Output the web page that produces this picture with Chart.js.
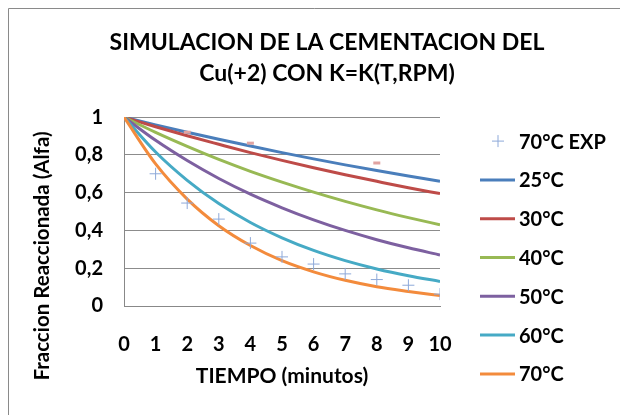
<!DOCTYPE html>
<html>
<head>
<meta charset="utf-8">
<script src="https://cdn.jsdelivr.net/npm/chart.js@4.4.1/dist/chart.umd.min.js"></script>
<style>
    html, body { margin: 0; padding: 0; background: #fff; }
    canvas { display: block; }
</style>
</head>
<body>
<canvas id="cementChart" width="620" height="415"></canvas>
<script>
// tiempo (minutos) for the simulated curves
const tiempo = [0, 1, 2, 3, 4, 5, 6, 7, 8, 9, 10];

// simulated fraction reacted per temperature
const alfa25 = [1, 0.959, 0.920, 0.883, 0.847, 0.812, 0.779, 0.747, 0.717, 0.688, 0.66];
const alfa30 = [1, 0.949, 0.901, 0.856, 0.812, 0.771, 0.732, 0.695, 0.660, 0.626, 0.595];
const alfa40 = [1, 0.919, 0.845, 0.776, 0.713, 0.656, 0.603, 0.554, 0.509, 0.468, 0.43];
const alfa50 = [1, 0.877, 0.770, 0.675, 0.592, 0.520, 0.456, 0.400, 0.351, 0.308, 0.27];
const alfa60 = [1, 0.815, 0.665, 0.542, 0.442, 0.361, 0.294, 0.240, 0.196, 0.160, 0.13];
const alfa70 = [1, 0.752, 0.566, 0.425, 0.320, 0.240, 0.181, 0.136, 0.102, 0.077, 0.055];

// experimental points at 70°C
const expTiempo = [1, 2, 3, 4, 5, 6, 7, 8, 9, 10];
const expAlfa = [0.70, 0.545, 0.46, 0.333, 0.26, 0.222, 0.17, 0.14, 0.11, 0.063];

// stray markers (not in legend)
const extraTiempo = [2, 4, 8];
const extraAlfa = [0.92, 0.862, 0.757];

const yTicks = [0, 0.2, 0.4, 0.6, 0.8, 1];

const FONT = 'Lato';

function toPoints(xs, ys) {
    return xs.map((x, i) => ({ x: x, y: ys[i] }));
}

function curve(label, values, color, order) {
    return {
        label: label,
        data: toPoints(tiempo, values),
        borderColor: color,
        backgroundColor: color,
        borderWidth: 3,
        pointRadius: 0,
        cubicInterpolationMode: 'monotone',
        fill: false,
        order: order
    };
}

// white background + the partial frame seen on the top/left
const frame = {
    id: 'frame',
    beforeDraw(chart) {
        const ctx = chart.ctx;
        ctx.save();
        ctx.fillStyle = '#fff';
        ctx.fillRect(0, 0, chart.width, chart.height);
        ctx.strokeStyle = '#8a8a8a';
        ctx.lineWidth = 1;
        ctx.beginPath();
        ctx.moveTo(8.5, chart.height);
        ctx.lineTo(8.5, 8.5);
        ctx.lineTo(chart.width, 8.5);
        ctx.stroke();
        ctx.restore();
    }
};

// y axis title sits lower than the axis centre in the original
const yTitle = {
    id: 'yTitle',
    afterDraw(chart) {
        const ctx = chart.ctx;
        ctx.save();
        ctx.translate(42, 256);
        ctx.rotate(-Math.PI / 2);
        ctx.font = 'bold 20.5px ' + FONT;
        ctx.fillStyle = '#000';
        ctx.textAlign = 'center';
        ctx.textBaseline = 'middle';
        ctx.fillText('Fraccion Reaccionada (Alfa)', 0, 0);
        ctx.restore();
    }
};

// legend to the right of the plot
const sideLegend = {
    id: 'sideLegend',
    afterDraw(chart) {
        const ctx = chart.ctx;
        const area = chart.chartArea;
        const x0 = area.right + 40;
        let y = area.top + 24;
        ctx.save();
        ctx.font = 'bold 20px ' + FONT;
        ctx.textBaseline = 'middle';
        ctx.textAlign = 'left';
        chart.data.datasets.forEach(ds => {
            if (ds.hideInLegend) return;
            if (ds.pointStyle === 'cross') {
                ctx.strokeStyle = ds.borderColor;
                ctx.lineWidth = 1;
                ctx.beginPath();
                ctx.moveTo(x0 + 18 - 6, y);
                ctx.lineTo(x0 + 18 + 6, y);
                ctx.moveTo(x0 + 18, y - 6);
                ctx.lineTo(x0 + 18, y + 6);
                ctx.stroke();
            } else {
                ctx.strokeStyle = ds.borderColor;
                ctx.lineWidth = 3;
                ctx.beginPath();
                ctx.moveTo(x0, y);
                ctx.lineTo(x0 + 35, y);
                ctx.stroke();
            }
            ctx.fillStyle = '#000';
            ctx.fillText(ds.label, x0 + 39, y + 1);
            y += 38.8;
        });
        ctx.restore();
    }
};

const datasets = [
    {
        label: '70°C EXP',
        data: toPoints(expTiempo, expAlfa),
        showLine: false,
        pointStyle: 'cross',
        pointRadius: 6,
        pointBorderWidth: 1,
        borderColor: '#8ea9d9',
        backgroundColor: '#8ea9d9',
        order: 0
    },
    curve('25°C', alfa25, '#4a7ebb', 6),
    curve('30°C', alfa30, '#be4b48', 5),
    curve('40°C', alfa40, '#98b954', 4),
    curve('50°C', alfa50, '#7d60a0', 3),
    curve('60°C', alfa60, '#46aac5', 2),
    curve('70°C', alfa70, '#f38b3c', 1),
    {
        label: 'extra',
        data: toPoints(extraTiempo, extraAlfa),
        showLine: false,
        pointStyle: 'line',
        pointRadius: 3.5,
        pointBorderWidth: 3,
        borderColor: '#e0a3a1',
        backgroundColor: '#e0a3a1',
        hideInLegend: true,
        order: 0
    }
];

new Chart(document.getElementById('cementChart'), {
    type: 'line',
    data: { datasets: datasets },
    options: {
        responsive: false,
        animation: false,
        devicePixelRatio: 1,
        layout: {
            padding: { left: 34, right: 0, top: 0, bottom: 0 }
        },
        plugins: {
            legend: { display: false },
            tooltip: { enabled: false },
            title: {
                display: true,
                text: ['SIMULACION DE LA CEMENTACION DEL', 'Cu(+2) CON K=K(T,RPM)'],
                color: '#000',
                font: { family: FONT, size: 23, weight: 'bold', lineHeight: 1.35 },
                padding: { top: 27.5, bottom: 27.5 }
            }
        },
        scales: {
            x: {
                type: 'linear',
                min: 0,
                max: 10,
                afterFit: function (scale) {
                    scale.height = 109;
                    scale.paddingRight = 180;
                },
                ticks: {
                    stepSize: 1,
                    padding: 27,
                    color: '#000',
                    font: { family: FONT, size: 20, weight: 'bold' }
                },
                grid: { display: false, drawTicks: false },
                border: { display: true, color: '#888', width: 1 },
                title: {
                    display: true,
                    text: 'TIEMPO (minutos)',
                    color: '#000',
                    font: { family: FONT, size: 21, weight: 'bold', lineHeight: 1.2 },
                    padding: { top: 0, bottom: 26.5 }
                }
            },
            y: {
                min: 0,
                max: 1,
                afterFit: function (scale) {
                    scale.width = 90;
                },
                afterBuildTicks: function (scale) {
                    scale.ticks = yTicks.map(v => ({ value: v }));
                },
                ticks: {
                    padding: 21,
                    color: '#000',
                    font: { family: FONT, size: 20, weight: 'bold' },
                    callback: function (value) {
                        return String(Math.round(value * 10) / 10).replace('.', ',');
                    }
                },
                grid: { color: '#8c8c8c', drawTicks: false },
                border: { display: true, color: '#888', width: 1 }
            }
        }
    },
    plugins: [frame, yTitle, sideLegend]
});
</script>
</body>
</html>
